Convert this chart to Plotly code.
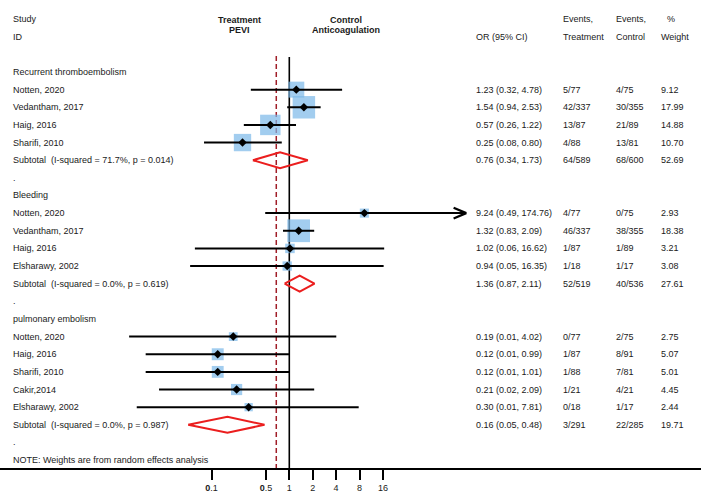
import math
import plotly.graph_objects as go

# ---------------- data ----------------
group_names = ["Recurrent thromboembolism", "Bleeding", "pulmonary embolism"]

rt_study = ["Notten, 2020", "Vedantham, 2017", "Haig, 2016", "Sharifi, 2010"]
rt_or = [1.23, 1.54, 0.57, 0.25]
rt_lo = [0.32, 0.94, 0.26, 0.08]
rt_hi = [4.78, 2.53, 1.22, 0.80]
rt_evt = ["5/77", "42/337", "13/87", "4/88"]
rt_evc = ["4/75", "30/355", "21/89", "13/81"]
rt_w = [9.12, 17.99, 14.88, 10.70]

bl_study = ["Notten, 2020", "Vedantham, 2017", "Haig, 2016", "Elsharawy, 2002"]
bl_or = [9.24, 1.32, 1.02, 0.94]
bl_lo = [0.49, 0.83, 0.061, 0.053]
bl_hi = [174.76, 2.09, 16.62, 16.35]
bl_evt = ["4/77", "46/337", "1/87", "1/18"]
bl_evc = ["0/75", "38/355", "1/89", "1/17"]
bl_w = [2.93, 18.38, 3.21, 3.08]

pe_study = ["Notten, 2020", "Haig, 2016", "Sharifi, 2010", "Cakir,2014", "Elsharawy, 2002"]
pe_or = [0.19, 0.12, 0.12, 0.21, 0.30]
pe_lo = [0.0087, 0.0142, 0.0142, 0.0211, 0.0109]
pe_hi = [4.02, 0.99, 1.01, 2.09, 7.81]
pe_evt = ["0/77", "1/87", "1/88", "1/21", "0/18"]
pe_evc = ["2/75", "8/91", "7/81", "4/21", "1/17"]
pe_w = [2.75, 5.07, 5.01, 4.45, 2.44]

sub_i2 = [71.7, 0.0, 0.0]
sub_p = [0.014, 0.619, 0.987]
sub_or = [0.76, 1.36, 0.16]
sub_lo = [0.34, 0.87, 0.05]
sub_hi = [1.73, 2.11, 0.48]
sub_evt = ["64/589", "52/519", "3/291"]
sub_evc = ["68/600", "40/536", "22/285"]
sub_w = [52.69, 27.61, 19.71]

overall_or = 0.68
tick_vals = [0.1, 0.5, 1, 2, 4, 8, 16]
tick_text = ["<b>0</b>.1", "<b>0</b>.5", "1", "2", "4", "8", "16"]
note_text = "NOTE: Weights are from random effects analysis"

# ---------------- layout geometry ----------------
W, H = 701, 495
PX_ONE, PX_PER_LOG2 = 289.3, 23.4
AXIS_PX = 468
ROW0_PX, ROW_PX = 72, 17.64
x_min = math.log10(2 ** (-PX_ONE / PX_PER_LOG2))
x_max = math.log10(2 ** ((W - PX_ONE) / PX_PER_LOG2))
y_top = -ROW0_PX / ROW_PX
y_bot = (AXIS_PX - ROW0_PX) / ROW_PX

FONT = "Liberation Sans, Arial, sans-serif"
TXT = "#1a1a1a"
BOX = "rgb(122,184,232)"
RED = "rgb(235,30,30)"
DASH = "rgb(160,30,40)"

COL_LABEL, COL_OR, COL_EVT, COL_EVC, COL_W = 11, 474, 561, 614, 659

groups = [
    (rt_study, rt_or, rt_lo, rt_hi, rt_evt, rt_evc, rt_w),
    (bl_study, bl_or, bl_lo, bl_hi, bl_evt, bl_evc, bl_w),
    (pe_study, pe_or, pe_lo, pe_hi, pe_evt, pe_evc, pe_w),
]

annotations = []


def txt(px, row, s, bold=False, anchor="left"):
    annotations.append(dict(
        x=px / W, xref="paper", y=row, yref="y", text=("<b>%s</b>" % s) if bold else s,
        showarrow=False, xanchor=anchor, yanchor="middle",
        font=dict(family=FONT, size=9, color=TXT)))


def fmt_ci(o, l, h):
    return "%.2f (%.2f, %.2f)" % (o, l, h)


# header
txt(COL_LABEL, -3, "Study")
txt(COL_LABEL, -2, "ID")
txt(239.5, -2.97, "Treatment", bold=True, anchor="center")
txt(239.5, -2.38, "PEVI", bold=True, anchor="center")
txt(346, -2.97, "Control", bold=True, anchor="center")
txt(346, -2.38, "Anticoagulation", bold=True, anchor="center")
txt(COL_OR, -2, "OR (95% CI)")
txt(COL_EVT, -3, "Events,")
txt(COL_EVT, -2, "Treatment")
txt(COL_EVC, -3, "Events,")
txt(COL_EVC, -2, "Control")
txt(COL_W + 6, -3, "%")
txt(COL_W, -2, "Weight")

box_x, box_y, box_s = [], [], []
ci_x, ci_y = [], []
pt_x, pt_y = [], []
dia_x, dia_y = [], []
arrow_x, arrow_y = [], []

row = 0
for gi, (st, o, lo, hi, et, ec, w) in enumerate(groups):
    txt(COL_LABEL, row, group_names[gi])
    row += 1
    for k in range(len(st)):
        txt(COL_LABEL, row, st[k])
        txt(COL_OR, row, fmt_ci(o[k], lo[k], hi[k]))
        txt(COL_EVT, row, et[k])
        txt(COL_EVC, row, ec[k])
        txt(COL_W, row, "%.2f" % w[k])
        box_x.append(o[k]); box_y.append(row); box_s.append(5.3 * math.sqrt(w[k]))
        ci_x += [lo[k], hi[k], None]; ci_y += [row, row, None]
        pt_x.append(o[k]); pt_y.append(row)
        if math.log10(hi[k]) > 2:  # off-scale upper limit -> chevron
            back = 2 ** (10 / PX_PER_LOG2)
            arrow_x += [hi[k] / back, hi[k] * 1.08, hi[k] / back, None]
            arrow_y += [row - 0.3, row, row + 0.3, None]
        row += 1
    lab = "Subtotal&nbsp; (I-squared = %.1f%%, p = %.3f)" % (sub_i2[gi], sub_p[gi])
    txt(COL_LABEL, row, lab)
    txt(COL_OR, row, fmt_ci(sub_or[gi], sub_lo[gi], sub_hi[gi]))
    txt(COL_EVT, row, sub_evt[gi])
    txt(COL_EVC, row, sub_evc[gi])
    txt(COL_W, row, "%.2f" % sub_w[gi])
    hh = 0.45
    dia_x += [sub_lo[gi], sub_or[gi], sub_hi[gi], sub_or[gi], sub_lo[gi], None]
    dia_y += [row, row - hh, row, row + hh, row, None]
    row += 1
    txt(COL_LABEL, row, ".")
    row += 1
txt(COL_LABEL, row, note_text)

fig = go.Figure()
fig.add_trace(go.Scatter(x=box_x, y=box_y, mode="markers", hoverinfo="skip",
                         marker=dict(symbol="square", size=box_s, color=BOX, line=dict(width=0))))
fig.add_trace(go.Scatter(x=ci_x, y=ci_y, mode="lines", hoverinfo="skip",
                         line=dict(color="black", width=2)))
fig.add_trace(go.Scatter(x=arrow_x, y=arrow_y, mode="lines", hoverinfo="skip",
                         line=dict(color="black", width=2.2)))
fig.add_trace(go.Scatter(x=pt_x, y=pt_y, mode="markers", hoverinfo="skip",
                         marker=dict(symbol="diamond", size=6.5, color="black")))
fig.add_trace(go.Scatter(x=dia_x, y=dia_y, mode="lines", hoverinfo="skip",
                         line=dict(color=RED, width=2)))

shapes = [
    dict(type="line", xref="x", yref="y", x0=1, x1=1, y0=-0.85, y1=y_bot,
         line=dict(color="black", width=1.6), layer="below"),
    dict(type="line", xref="x", yref="y", x0=overall_or, x1=overall_or, y0=-0.9, y1=y_bot,
         line=dict(color=DASH, width=1.5, dash="5px,3px"), layer="below"),
]

fig.update_layout(
    width=W, height=H, margin=dict(l=0, r=0, t=0, b=H - AXIS_PX),
    paper_bgcolor="white", plot_bgcolor="white", showlegend=False,
    annotations=annotations, shapes=shapes,
    xaxis=dict(type="log", range=[x_min, x_max], showgrid=False, zeroline=False,
               showline=True, linecolor="black", linewidth=2,
               ticks="outside", ticklen=10, tickwidth=1.8, tickcolor="black",
               tickvals=tick_vals, ticktext=tick_text,
               tickfont=dict(family=FONT, size=9, color=TXT)),
    yaxis=dict(range=[y_bot, y_top], visible=False, showgrid=False, zeroline=False),
)

fig.write_html("out.html", config={"displayModeBar": False},
               post_script="document.body.style.margin='0';document.body.style.overflow='hidden';")
